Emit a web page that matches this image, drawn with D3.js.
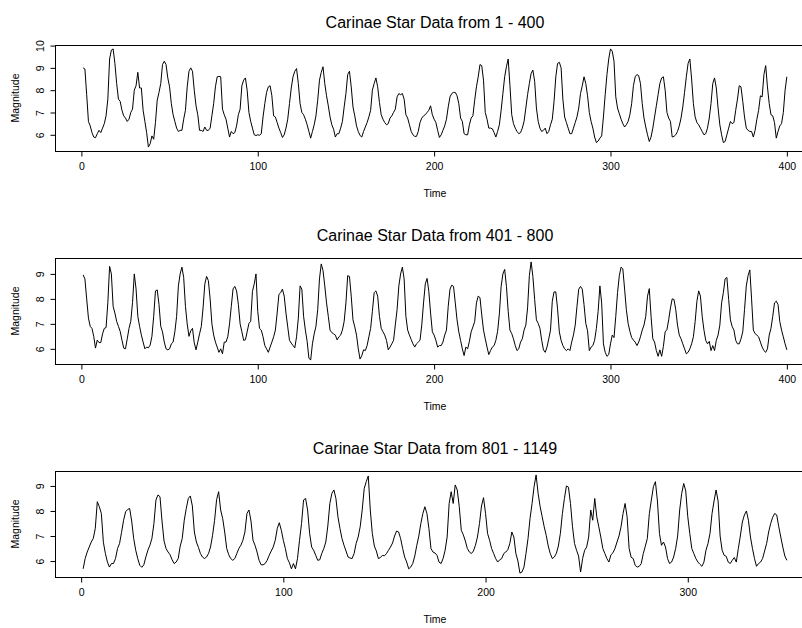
<!DOCTYPE html>
<html>
<head>
<meta charset="utf-8">
<script src="https://cdn.jsdelivr.net/npm/d3@7"></script>
<style>
  body { margin: 0; background: #fff; }
  svg { font-family: "Liberation Sans", Arial, Helvetica, sans-serif; }
  .axis text { font-size: 10.5px; fill: #000; }
  .axis line, .axis path { stroke: #000; }
</style>
</head>
<body>
<div id="chart"></div>
<script>
// magnitudes, one value per time step (time = index + 1)
var mag1 = [
  9.0, 8.95, 7.8, 6.6, 6.4, 6.1, 5.9, 5.87, 6.05, 6.2,
  6.1, 6.3, 6.5, 6.85, 7.6, 9.4, 9.8, 9.85, 9.2, 8.3,
  7.6, 7.5, 7.1, 6.85, 6.75, 6.6, 6.7, 7.0, 7.15, 8.0,
  8.2, 8.8, 8.1, 8.1, 7.1, 6.6, 6.1, 5.45, 5.6, 5.95,
  5.8, 6.55, 7.55, 7.9, 8.3, 9.15, 9.3, 9.15, 8.55, 8.15,
  7.4, 6.9, 6.6, 6.3, 6.15, 6.2, 6.2, 6.7, 7.1, 8.15,
  8.85, 9.0, 8.85, 8.0, 7.3, 6.9, 6.2, 6.2, 6.15, 6.35,
  6.2, 6.2, 6.3, 6.85, 7.4, 8.15, 8.6, 8.62, 8.6, 7.15,
  6.9, 6.7, 6.3, 5.9, 6.15, 6.05, 6.1, 6.4, 6.9, 7.15,
  8.2, 8.45, 8.55, 8.0, 7.0, 6.6, 6.3, 6.0, 5.97, 6.0,
  5.98, 6.05, 6.8, 7.4, 7.9, 8.15, 8.2, 7.75, 6.85, 6.8,
  6.55, 6.3, 6.1, 5.88, 6.0, 6.3, 6.7, 7.4, 8.1, 8.6,
  8.85, 8.97, 8.3, 7.4, 7.0, 6.9, 6.7, 6.45, 6.15, 5.85,
  6.15, 6.45, 6.85, 7.55, 8.45, 8.8, 9.05, 8.3, 7.75, 7.3,
  6.8, 6.45, 6.25, 5.9, 6.05, 6.05, 6.3, 6.6, 7.25, 7.85,
  8.7, 8.85, 8.15, 7.25, 6.85, 6.4, 6.15, 5.97, 5.9, 6.15,
  6.35, 6.55, 6.8, 7.1, 8.0, 8.3, 8.55, 8.15, 7.45, 6.9,
  6.7, 6.55, 6.45, 6.5, 6.75, 6.85, 7.0, 7.15, 7.7, 7.85,
  7.8, 7.85, 7.6, 6.9, 6.75, 6.45, 6.15, 6.0, 5.93, 5.93,
  6.15, 6.55, 6.75, 6.85, 6.9, 7.0, 7.1, 7.3, 6.9, 6.7,
  6.55, 6.2, 5.88, 6.0, 6.2, 6.4, 6.7, 7.25, 7.7, 7.85,
  7.9, 7.9, 7.75, 7.4, 6.75, 6.6, 6.05, 6.0, 6.0, 6.45,
  6.75, 6.85, 7.55, 8.15, 8.6, 9.15, 9.1, 8.45, 7.0, 6.7,
  6.3, 6.3, 6.27, 6.1, 5.9, 6.15, 6.45, 7.1, 7.85, 8.6,
  9.05, 9.4, 8.2, 6.9, 6.5, 6.3, 6.15, 6.05, 6.1, 6.3,
  6.6, 7.2, 7.8, 8.3, 8.75, 8.9, 8.4, 7.2, 6.6, 6.3,
  6.15, 6.2, 6.3, 6.05, 6.15, 6.45, 6.7, 7.5, 8.6, 9.2,
  9.25, 9.0, 7.6, 6.8, 6.55, 6.3, 6.05, 6.05, 6.3, 6.55,
  6.8, 7.2, 7.85, 8.2, 8.6, 8.3, 7.75, 7.0, 6.6, 6.3,
  5.9, 5.65, 5.72, 5.85, 5.95, 6.8, 7.8, 8.7, 9.4, 9.85,
  9.75, 9.3, 7.7, 7.2, 6.95, 6.7, 6.5, 6.35, 6.45, 6.6,
  6.9, 7.4, 8.2, 8.6, 8.7, 8.65, 8.3, 7.4, 6.75, 6.35,
  6.0, 5.7, 5.9, 6.3, 6.8, 7.3, 7.8, 8.3, 8.55, 8.6,
  8.0, 7.0, 6.75, 6.6, 5.9, 5.93, 6.0, 6.15, 6.4, 6.75,
  7.25, 7.9, 8.6, 9.2, 9.4, 8.5, 7.4, 6.8, 6.55, 6.45,
  6.3, 6.15, 6.0, 6.05, 6.3, 6.75, 7.4, 8.3, 8.55, 8.1,
  7.2, 6.45, 6.0, 5.65, 5.7, 6.0, 6.3, 6.6, 6.5, 6.55,
  7.1, 7.6, 8.2, 8.15, 7.5, 6.8, 6.3, 6.2, 6.15, 6.15,
  5.9, 6.2, 6.7, 7.1, 7.75, 7.7, 8.7, 9.1, 8.15, 7.4,
  6.9, 6.85, 6.55, 5.85, 6.15, 6.4, 6.5, 7.0, 8.0, 8.6
];

var mag2 = [
  8.96, 8.8, 8.0, 7.23, 6.9, 6.82, 6.5, 6.03, 6.35, 6.25,
  6.25, 6.6, 6.82, 6.85, 7.85, 9.3, 9.0, 7.7, 7.43, 7.1,
  6.9, 6.7, 6.35, 6.03, 6.0, 6.4, 6.82, 7.1, 7.85, 9.0,
  8.4, 7.3, 6.9, 6.55, 6.27, 6.0, 6.07, 6.04, 6.15, 6.5,
  7.3, 8.32, 8.36, 7.78, 6.9, 6.68, 6.27, 6.0, 5.96, 6.0,
  6.2, 6.27, 6.68, 7.3, 8.52, 9.0, 9.27, 8.86, 7.7, 7.0,
  6.5, 6.72, 6.82, 6.24, 5.96, 6.27, 6.6, 6.9, 7.64, 8.6,
  8.9, 8.73, 8.0, 7.0, 6.55, 6.27, 6.07, 5.86, 6.0, 5.8,
  6.27, 6.27, 6.48, 7.0, 7.7, 8.4, 8.5, 8.32, 7.78, 7.0,
  6.68, 6.34, 6.36, 6.68, 7.02, 7.1, 8.3, 8.6, 9.0, 7.5,
  6.82, 6.75, 6.48, 6.13, 6.0, 5.86, 6.07, 6.27, 6.48, 6.75,
  7.43, 8.18, 8.25, 8.39, 8.11, 7.43, 6.88, 6.34, 6.23, 6.13,
  6.04, 6.48, 7.23, 8.52, 8.39, 7.3, 6.75, 6.3, 5.63, 5.55,
  6.2, 6.6, 6.9, 7.57, 8.8, 9.4, 9.14, 8.52, 7.84, 7.3,
  6.75, 6.65, 6.6, 6.55, 6.36, 6.48, 6.55, 6.75, 7.1, 7.84,
  8.93, 8.9, 8.11, 7.16, 6.88, 6.55, 6.0, 5.59, 5.73, 5.96,
  5.93, 6.13, 6.48, 6.82, 7.5, 8.25, 8.32, 8.11, 7.3, 6.82,
  6.68, 6.55, 6.34, 5.96, 6.07, 6.2, 6.34, 6.96, 7.57, 8.52,
  9.0, 9.27, 8.8, 7.3, 6.75, 6.55, 6.37, 6.2, 6.07, 6.2,
  6.27, 6.34, 6.96, 7.84, 8.6, 8.82, 8.3, 7.43, 6.68, 6.55,
  6.34, 6.07, 6.13, 6.13, 6.27, 6.55, 6.75, 7.7, 8.39, 8.55,
  8.5, 7.84, 7.16, 6.68, 6.34, 6.0, 5.73, 6.07, 6.0, 6.3,
  6.68, 6.88, 7.09, 7.84, 8.11, 8.05, 7.36, 6.75, 6.4, 6.07,
  5.77, 5.93, 6.07, 6.13, 6.34, 6.7, 7.4, 8.5, 9.0, 9.18,
  8.5, 7.5, 6.75, 6.61, 6.4, 6.13, 5.93, 6.0, 6.27, 6.4,
  6.75, 6.95, 7.64, 8.93, 9.48, 8.9, 7.98, 7.16, 7.02, 6.82,
  6.34, 5.96, 5.86, 6.07, 6.4, 6.75, 7.91, 8.28, 8.28, 7.6,
  6.68, 6.34, 6.13, 6.0, 5.93, 6.0, 5.93, 6.27, 6.55, 6.95,
  7.7, 8.39, 8.5, 8.39, 7.77, 7.02, 6.72, 5.93, 6.07, 6.13,
  6.34, 6.82, 7.5, 8.52, 7.84, 6.2, 5.86, 5.7, 5.77, 6.2,
  6.55, 6.45, 7.3, 8.25, 8.93, 9.27, 9.2, 8.39, 7.57, 7.02,
  6.7, 6.45, 6.35, 6.27, 6.13, 6.27, 6.48, 6.75, 6.95, 7.3,
  8.11, 8.41, 7.3, 6.4, 6.27, 5.93, 5.7, 5.96, 5.7, 6.1,
  6.68, 6.77, 7.16, 7.64, 8.0, 7.98, 7.57, 6.95, 6.55, 6.4,
  6.2, 6.0, 5.8, 5.86, 6.0, 6.2, 6.48, 7.09, 7.9, 8.32,
  8.11, 7.3, 6.75, 6.34, 6.2, 6.3, 5.93, 6.13, 5.93, 6.34,
  6.55, 6.95, 7.84, 8.25, 8.8, 8.86, 7.98, 7.16, 6.89, 6.75,
  6.34, 6.2, 6.2, 6.4, 6.68, 7.57, 8.52, 8.93, 9.16, 8.0,
  6.75, 6.61, 6.55, 6.48, 6.27, 6.07, 5.93, 5.86, 6.0, 6.55,
  6.82, 7.3, 7.84, 7.91, 7.77, 7.09, 6.75, 6.48, 6.2, 5.96
];

var mag3 = [
  5.69, 6.1, 6.36, 6.56, 6.76, 6.9, 7.3, 8.37, 8.17, 7.9,
  6.75, 6.3, 5.96, 5.76, 5.9, 5.9, 6.1, 6.5, 6.7, 7.15,
  7.63, 7.97, 8.06, 8.1, 7.6, 6.9, 6.43, 6.1, 5.83, 5.75,
  5.85, 6.16, 6.43, 6.63, 6.9, 7.5, 8.44, 8.64, 8.57, 7.6,
  6.8, 6.5, 6.36, 6.25, 6.05, 5.9, 5.96, 6.1, 6.6, 6.9,
  7.63, 8.1, 8.5, 8.6, 8.2, 7.16, 6.76, 6.55, 6.3, 6.16,
  6.1, 6.16, 6.3, 6.56, 7.03, 7.63, 8.45, 8.77, 8.04, 7.7,
  7.16, 6.5, 6.25, 6.1, 6.03, 6.1, 6.3, 6.5, 6.63, 6.83,
  7.16, 7.9, 8.04, 7.6, 6.83, 6.63, 6.36, 6.03, 5.85, 5.85,
  5.9, 6.03, 6.23, 6.4, 6.56, 6.83, 7.3, 7.53, 7.23, 6.83,
  6.5, 6.1, 5.93, 5.69, 5.9, 5.69, 6.1, 6.83, 7.5, 8.44,
  8.5, 8.04, 7.1, 6.56, 6.43, 6.23, 6.03, 6.05, 6.3, 6.5,
  6.76, 7.4, 8.3, 8.7, 8.84, 8.5, 7.77, 7.3, 6.9, 6.63,
  6.4, 6.16, 6.12, 6.1, 6.3, 6.7, 6.96, 7.37, 8.04, 8.9,
  9.17, 9.4, 8.04, 7.1, 6.6, 6.4, 6.1, 6.14, 6.23, 6.21,
  6.3, 6.43, 6.56, 6.72, 7.0, 7.2, 7.16, 6.9, 6.5, 6.16,
  5.96, 5.69, 5.76, 5.9, 6.2, 6.63, 7.0, 7.5, 7.9, 8.17,
  7.9, 7.3, 6.5, 6.36, 6.32, 6.23, 5.96, 5.9, 6.1, 6.43,
  6.96, 8.3, 8.77, 8.3, 9.04, 8.84, 8.17, 7.23, 7.05, 6.8,
  6.5, 6.36, 6.3, 6.4, 6.63, 6.96, 7.5, 8.2, 8.53, 7.9,
  7.1, 6.83, 6.5, 6.3, 6.1, 5.96, 6.05, 6.1, 6.3, 6.36,
  6.45, 6.7, 7.16, 6.96, 6.3, 6.0, 5.52, 5.56, 5.76, 6.3,
  6.9, 7.7, 8.3, 8.97, 9.44, 8.7, 8.17, 7.77, 7.37, 7.03,
  6.6, 6.3, 6.1, 6.16, 6.3, 6.6, 7.1, 7.9, 8.5, 9.0,
  8.95, 8.3, 7.37, 6.7, 6.43, 6.2, 5.56, 6.1, 6.43, 6.56,
  6.96, 8.04, 7.63, 8.5, 7.77, 7.37, 6.96, 6.5, 6.3, 6.1,
  5.96, 6.25, 6.33, 6.5, 6.76, 7.0, 7.37, 7.9, 8.3, 7.77,
  6.5, 6.15, 6.1, 5.83, 5.76, 5.79, 5.9, 6.3, 6.59, 6.9,
  7.9, 8.44, 8.97, 9.17, 8.4, 7.1, 6.63, 6.76, 6.56, 6.1,
  5.9, 5.96, 6.16, 6.5, 7.0, 8.04, 8.7, 9.1, 8.8, 7.77,
  7.1, 6.5, 6.3, 6.1, 5.96, 5.87, 5.79, 5.96, 6.43, 6.7,
  7.1, 7.9, 8.4, 8.84, 8.4, 7.0, 6.43, 6.23, 6.19, 5.96,
  5.9, 6.03, 6.14, 5.96, 6.5, 7.0, 7.56, 7.84, 8.0, 7.63,
  6.96, 6.5, 6.1, 5.79, 5.9, 5.96, 6.1, 6.4, 6.7, 7.16,
  7.5, 7.75, 7.9, 7.84, 7.37, 6.96, 6.56, 6.2, 6.03
];

var titles = [
  "Carinae Star Data from 1 - 400",
  "Carinae Star Data from 401 - 800",
  "Carinae Star Data from 801 - 1149"
];
var xTicks12 = [0, 100, 200, 300, 400];
var xTicks3 = [0, 100, 200, 300];
var yTicks1 = [6, 7, 8, 9, 10];
var yTicks23 = [6, 7, 8, 9];

var w = 802;
var h = 628;
var left = 55, right = 815;      // plot box runs past the right edge, as in the picture
var boxH = 106;
var tops = [45, 258, 471];

var svg = d3.select("#chart")
    .append("svg")
    .attr("width", w)
    .attr("height", h);

var panels = [
  { mag: mag1, title: titles[0], xTicks: xTicks12, yTicks: yTicks1 },
  { mag: mag2, title: titles[1], xTicks: xTicks12, yTicks: yTicks23 },
  { mag: mag3, title: titles[2], xTicks: xTicks3, yTicks: yTicks23 }
];

panels.forEach(function(p, k) {
    var top = tops[k];
    var bottom = top + boxH;
    var data = p.mag.map(function(v, i) { return { t: i + 1, v: v }; });
    var n = data.length;

    // R style 4% padding on both axes
    var xPad = (n - 1) * 0.04;
    var xScale = d3.scaleLinear()
        .domain([1 - xPad, n + xPad])
        .range([left, right]);

    var ext = d3.extent(p.mag);
    var yPad = (ext[1] - ext[0]) * 0.04;
    var yScale = d3.scaleLinear()
        .domain([ext[0] - yPad, ext[1] + yPad])
        .range([bottom, top]);

    var line = d3.line()
        .x(function(d) { return xScale(d.t); })
        .y(function(d) { return yScale(d.v); });

    svg.append("path")
        .datum(data)
        .attr("fill", "none")
        .attr("stroke", "#000")
        .attr("stroke-width", 1)
        .attr("stroke-linejoin", "round")
        .attr("d", line);

    // box
    svg.append("rect")
        .attr("x", left + 0.5)
        .attr("y", top + 0.5)
        .attr("width", right - left)
        .attr("height", boxH)
        .attr("fill", "none")
        .attr("stroke", "#000");

    var xAxis = d3.axisBottom(xScale)
        .tickValues(p.xTicks)
        .tickSize(5)
        .tickPadding(6)
        .tickFormat(d3.format("d"));
    var gx = svg.append("g")
        .attr("class", "axis")
        .attr("transform", "translate(0," + (bottom + 0.5) + ")")
        .call(xAxis);
    gx.select(".domain").remove();
    gx.append("line")
        .attr("x1", xScale(p.xTicks[0]))
        .attr("x2", xScale(p.xTicks[p.xTicks.length - 1]))
        .attr("stroke", "#000");

    var yAxis = d3.axisLeft(yScale)
        .tickValues(p.yTicks)
        .tickSize(5)
        .tickFormat(d3.format("d"));
    var gy = svg.append("g")
        .attr("class", "axis")
        .attr("transform", "translate(" + (left + 0.5) + ",0)")
        .call(yAxis);
    gy.select(".domain").remove();
    gy.selectAll(".tick text")
        .attr("x", 0)
        .attr("dy", null)
        .attr("text-anchor", "middle")
        .attr("transform", "translate(-12,0) rotate(-90)");

    svg.append("text")
        .attr("x", (left + right) / 2)
        .attr("y", top - 17)
        .attr("text-anchor", "middle")
        .style("font-size", "16px")
        .text(p.title);

    svg.append("text")
        .attr("x", (left + right) / 2)
        .attr("y", bottom + 46)
        .attr("text-anchor", "middle")
        .style("font-size", "10.5px")
        .text("Time");

    svg.append("text")
        .attr("transform", "translate(19," + ((top + bottom) / 2) + ") rotate(-90)")
        .attr("text-anchor", "middle")
        .style("font-size", "10.5px")
        .text("Magnitude");
});
</script>
</body>
</html>
